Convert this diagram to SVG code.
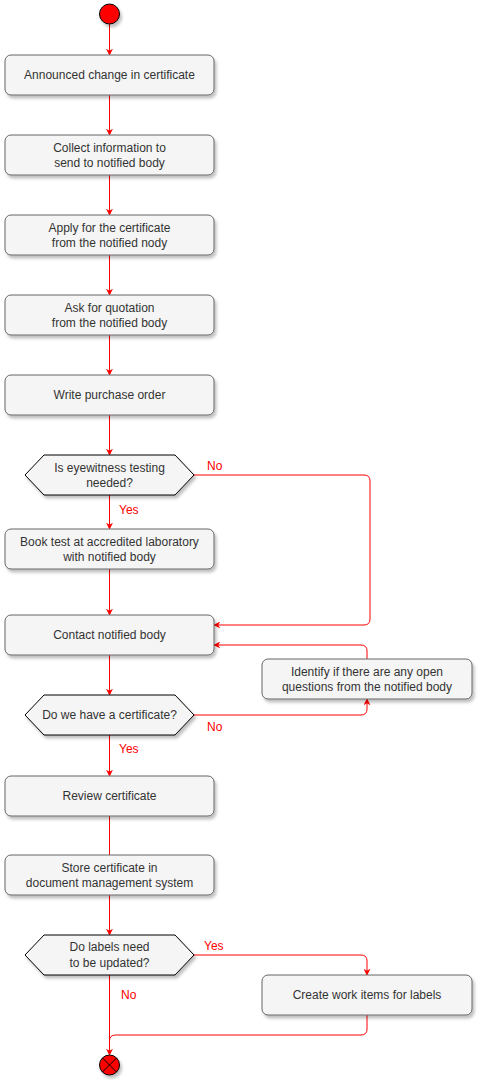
<svg xmlns="http://www.w3.org/2000/svg" width="479" height="1083" viewBox="0 0 479 1083">
<defs>
<filter id="sh" x="-10%" y="-10%" width="130%" height="140%">
<feDropShadow dx="2" dy="3" stdDeviation="1.5" flood-color="#000" flood-opacity="0.25"/>
</filter>
<marker id="ar" viewBox="0 0 10 10" refX="9" refY="5" markerWidth="7" markerHeight="7" orient="auto" markerUnits="userSpaceOnUse">
<path d="M0,0 L10,5 L0,10 L3,5 Z" fill="#ff0000"/>
</marker>
</defs>
<style>
.box{fill:#f5f5f5;stroke:#666666;stroke-width:1;filter:url(#sh)}
.dia{fill:#f5f5f5;stroke:#000000;stroke-width:1;filter:url(#sh)}
.t{font-family:"Liberation Sans",Arial,sans-serif;font-size:12px;fill:#333333;text-anchor:middle}
.lbl{font-family:"Liberation Sans",Arial,sans-serif;font-size:12px;fill:#ff0000}
.c{fill:none;stroke:#ff0000;stroke-width:1}
.ca{fill:none;stroke:#ff0000;stroke-width:1;marker-end:url(#ar)}
</style>
<g id="connectors">
<path class="ca" d="M109.5,24 L109.5,55"/>
<path class="ca" d="M109.5,95 L109.5,135"/>
<path class="ca" d="M109.5,175 L109.5,215"/>
<path class="ca" d="M109.5,255 L109.5,295"/>
<path class="ca" d="M109.5,335 L109.5,375"/>
<path class="ca" d="M109.5,415 L109.5,455"/>
<path class="ca" d="M109.5,495 L109.5,529"/>
<path class="ca" d="M109.5,569 L109.5,615"/>
<path class="ca" d="M194,475 L364,475 Q370,475 370,481 L370,619 Q370,625 364,625 L214,625"/>
<path class="ca" d="M367,659 L367,651 Q367,645 361,645 L214,645"/>
<path class="ca" d="M109.5,655 L109.5,695"/>
<path class="ca" d="M194,715 L361,715 Q367,715 367,709 L367,699"/>
<path class="ca" d="M109.5,735 L109.5,776"/>
<path class="c" d="M109.5,816 L109.5,855"/>
<path class="ca" d="M109.5,895 L109.5,935"/>
<path class="ca" d="M194,955 L361,955 Q367,955 367,961 L367,975"/>
<path class="ca" d="M109.5,975 L109.5,1055"/>
<path class="c" d="M367,1015 L367,1029 Q367,1035 361,1035 L115.5,1035 Q109.5,1035 109.5,1041"/>
<text class="lbl" x="207" y="470">No</text>
<text class="lbl" x="119" y="514">Yes</text>
<text class="lbl" x="207" y="731">No</text>
<text class="lbl" x="119" y="753">Yes</text>
<text class="lbl" x="204" y="950">Yes</text>
<text class="lbl" x="121" y="999">No</text>
</g>
<g id="start">
<circle cx="109.5" cy="14" r="10" fill="#ff0000" stroke="#000" stroke-width="1" filter="url(#sh)"/>
</g>
<g id="n1">
<rect class="box" x="5" y="55" width="209" height="40" rx="6"/>
<text class="t" x="109.5" y="79">Announced change in certificate</text>
</g>
<g id="n2">
<rect class="box" x="5" y="135" width="209" height="40" rx="6"/>
<text class="t" x="109.5" y="151.5">Collect information to</text>
<text class="t" x="109.5" y="166.5">send to notified body</text>
</g>
<g id="n3">
<rect class="box" x="5" y="215" width="209" height="40" rx="6"/>
<text class="t" x="109.5" y="231.5">Apply for the certificate</text>
<text class="t" x="109.5" y="246.5">from the notified nody</text>
</g>
<g id="n4">
<rect class="box" x="5" y="295" width="209" height="40" rx="6"/>
<text class="t" x="109.5" y="311.5">Ask for quotation</text>
<text class="t" x="109.5" y="326.5">from the notified body</text>
</g>
<g id="n5">
<rect class="box" x="5" y="375" width="209" height="40" rx="6"/>
<text class="t" x="109.5" y="399">Write purchase order</text>
</g>
<g id="d1">
<polygon class="dia" points="25,475 44,455 175,455 194,475 175,495 44,495"/>
<text class="t" x="109.5" y="472">Is eyewitness testing</text>
<text class="t" x="109.5" y="487">needed?</text>
</g>
<g id="n6">
<rect class="box" x="5" y="529" width="209" height="40" rx="6"/>
<text class="t" x="109.5" y="545.5">Book test at accredited laboratory</text>
<text class="t" x="109.5" y="560.5">with notified body</text>
</g>
<g id="n7">
<rect class="box" x="5" y="615" width="209" height="40" rx="6"/>
<text class="t" x="109.5" y="639">Contact notified body</text>
</g>
<g id="n8">
<rect class="box" x="262" y="659" width="210" height="40" rx="6"/>
<text class="t" x="367" y="675.5">Identify if there are any open</text>
<text class="t" x="367" y="690.5">questions from the notified body</text>
</g>
<g id="d2">
<polygon class="dia" points="25,715 44,695 175,695 194,715 175,735 44,735"/>
<text class="t" x="109.5" y="719">Do we have a certificate?</text>
</g>
<g id="n9">
<rect class="box" x="5" y="776" width="209" height="40" rx="6"/>
<text class="t" x="109.5" y="800">Review certificate</text>
</g>
<g id="n10">
<rect class="box" x="5" y="855" width="209" height="40" rx="6"/>
<text class="t" x="109.5" y="871.5">Store certificate in</text>
<text class="t" x="109.5" y="886.5">document management system</text>
</g>
<g id="d3">
<polygon class="dia" points="25,955 44,935 175,935 194,955 175,975 44,975"/>
<text class="t" x="109.5" y="951">Do labels need</text>
<text class="t" x="109.5" y="967">to be updated?</text>
</g>
<g id="n11">
<rect class="box" x="262" y="975" width="210" height="40" rx="6"/>
<text class="t" x="367" y="999">Create work items for labels</text>
</g>
<g id="end">
<circle cx="109.5" cy="1065" r="10" fill="#ff0000" stroke="#000" stroke-width="1" filter="url(#sh)"/>
<path d="M102.4,1057.9 L116.6,1072.1 M116.6,1057.9 L102.4,1072.1" stroke="#000" stroke-width="1"/>
</g>
</svg>
